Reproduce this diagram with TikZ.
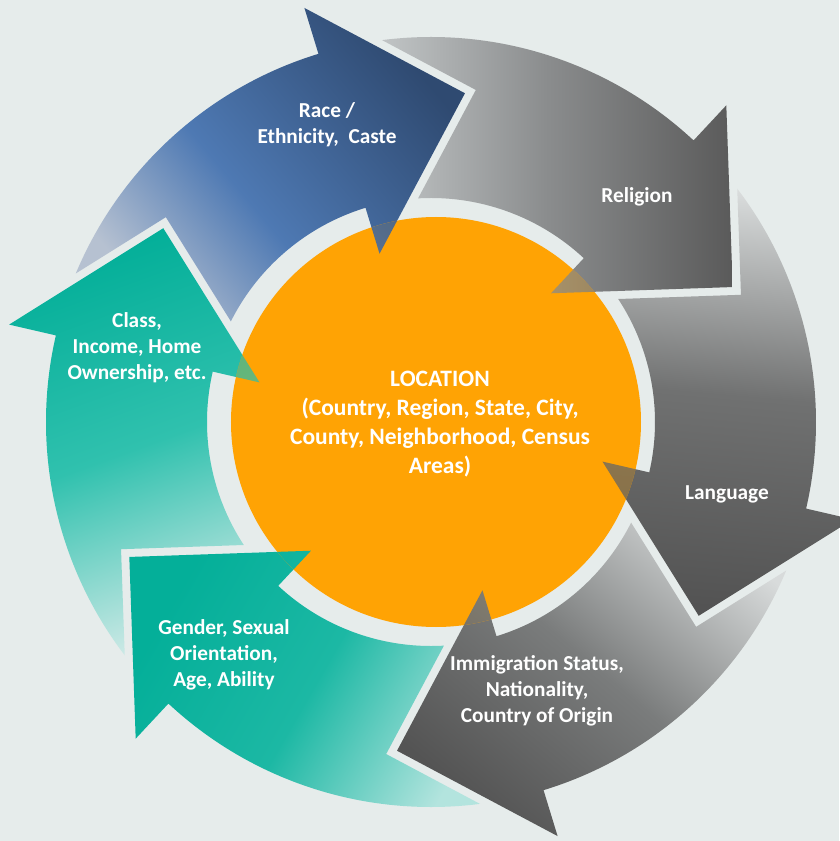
\documentclass[tikz,border=0pt]{standalone}
\usepackage{fontspec}
\setmainfont{Carlito}
\usetikzlibrary{calc}
\definecolor{bgc}{HTML}{E6ECEB}
\definecolor{locc}{HTML}{FFA304}
\definecolor{raceH}{HTML}{2F4A71}
\definecolor{raceM}{HTML}{4E79B3}
\definecolor{raceT}{HTML}{B6C1D1}
\definecolor{relH}{HTML}{5A5A5A}
\definecolor{relM}{HTML}{8A8C8D}
\definecolor{relT}{HTML}{C6CACB}
\definecolor{lanH}{HTML}{535353}
\definecolor{lanM}{HTML}{707171}
\definecolor{lanT}{HTML}{DEE1E1}
\definecolor{immH}{HTML}{545454}
\definecolor{immM}{HTML}{7A7C7C}
\definecolor{immT}{HTML}{D8DBDB}
\definecolor{genH}{HTML}{04AF99}
\definecolor{genM}{HTML}{1CB8A4}
\definecolor{genT}{HTML}{B3E4DE}
\definecolor{clsH}{HTML}{04AF99}
\definecolor{clsM}{HTML}{30C1AE}
\definecolor{clsT}{HTML}{D0EAE7}
\pgfdeclareverticalshading{raceshade}{100bp}{color(0bp)=(raceT); color(27bp)=(raceT); color(46bp)=(raceM); color(75bp)=(raceH); color(100bp)=(raceH)}
% one curved arrow: #1 = angle of the head base, #2 = path options
\newcommand\ArrowShape[2]{\path[#2] ({#1+53}:385pt) arc[start angle={#1+53}, end angle={#1}, radius=385pt] -- (#1:433pt) -- ({#1-22.9}:330.5pt) -- (#1:176pt) -- (#1:224pt) arc[start angle={#1}, end angle={#1+53}, radius=224pt] -- cycle;}
\newcommand\HeadShape[2]{\path[#2] (#1:433pt) -- ({#1-22.9}:330.5pt) -- (#1:176pt) -- cycle;}
% clip away the head #1 widened by the light gap (use inside a scope with even odd rule)
\newcommand\HoleClip[1]{%
  \coordinate (hc) at ($(#1:304.5pt)+({#1-90}:53.2pt)$);
  \clip (-520,-520) rectangle (520,520)
    ($(hc)!1.1504!(#1:433pt)$) -- ($(hc)!1.1504!({#1-22.9}:330.5pt)$) -- ($(hc)!1.1504!(#1:176pt)$) -- cycle;}
\tikzset{
  sRace/.style={shade, shading=raceshade, shading angle=-50},
  sRel/.style={shade, top color=relH, bottom color=relT, middle color=relM, shading angle=-90},
  sLan/.style={shade, top color=lanH, bottom color=lanT, middle color=lanM, shading angle=-185},
  sImm/.style={shade, top color=immH, bottom color=immT, middle color=immM, shading angle=140},
  sGen/.style={shade, top color=genH, bottom color=genT, middle color=genM, shading angle=60},
  sCls/.style={shade, top color=clsH, bottom color=clsT, middle color=clsM, shading angle=20},
  lbl/.style={text=white, align=center, inner sep=0pt, font=\fontsize{21.3}{26}\selectfont\bfseries},
  loclbl/.style={text=white, align=center, inner sep=0pt, font=\fontsize{23.5}{29}\selectfont\bfseries},
}
\begin{document}
\begin{tikzpicture}[x=1pt,y=1pt]
\useasboundingbox (-431,-419) rectangle (408,422);
\fill[bgc] (-431,-419) rectangle (408,422);
% the six arrows, each with its tail cut round the head before it
\begin{scope}[even odd rule]\HoleClip{167}\ArrowShape{107}{sRace}\end{scope}
\begin{scope}[even odd rule]\HoleClip{107}\ArrowShape{47}{sRel}\end{scope}
\begin{scope}[even odd rule]\HoleClip{47}\ArrowShape{-13}{sLan}\end{scope}
\begin{scope}[even odd rule]\HoleClip{-13}\ArrowShape{-73}{sImm}\end{scope}
\begin{scope}[even odd rule]\HoleClip{-73}\ArrowShape{-133}{sGen}\end{scope}
\begin{scope}[even odd rule]\HoleClip{-133}\ArrowShape{167}{sCls}\end{scope}
% centre circle
\node[circle, fill=locc, minimum size=410pt, inner sep=0pt] (loc) at (5,0) {};
% heads seen through over the circle
\begin{scope}
\clip (5,0) circle[radius=205pt];
\begin{scope}\HeadShape{107}{clip}\ArrowShape{107}{sRace, opacity=0.9}\end{scope}
\begin{scope}\HeadShape{47}{clip}\ArrowShape{47}{sRel, opacity=0.75}\end{scope}
\begin{scope}\HeadShape{-13}{clip}\ArrowShape{-13}{sLan, opacity=0.75}\end{scope}
\begin{scope}\HeadShape{-73}{clip}\ArrowShape{-73}{sImm, opacity=0.93}\end{scope}
\begin{scope}\HeadShape{-133}{clip}\ArrowShape{-133}{sGen, opacity=1}\end{scope}
\begin{scope}\HeadShape{167}{clip}\ArrowShape{167}{sCls, opacity=0.72}\end{scope}
\end{scope}
% labels
\node[lbl] (race) at (-104,297) {Race /\\Ethnicity,\ \ Caste};
\node[lbl] (rel) at (206,225) {Religion};
\node[lbl] (lang) at (296,-72) {Language};
\node[lbl] (imm) at (106,-269) {Immigration Status,\\Nationality,\\Country of Origin};
\node[lbl] (gen) at (-207,-233) {Gender, Sexual\\Orientation,\\Age, Ability};
\node[lbl] (cls) at (-294,74) {Class,\\Income, Home\\Ownership, etc.};
\node[loclbl] (loct) at (9,-2) {LOCATION\\(Country, Region, State, City,\\County, Neighborhood, Census\\Areas)};
\end{tikzpicture}
\end{document}
